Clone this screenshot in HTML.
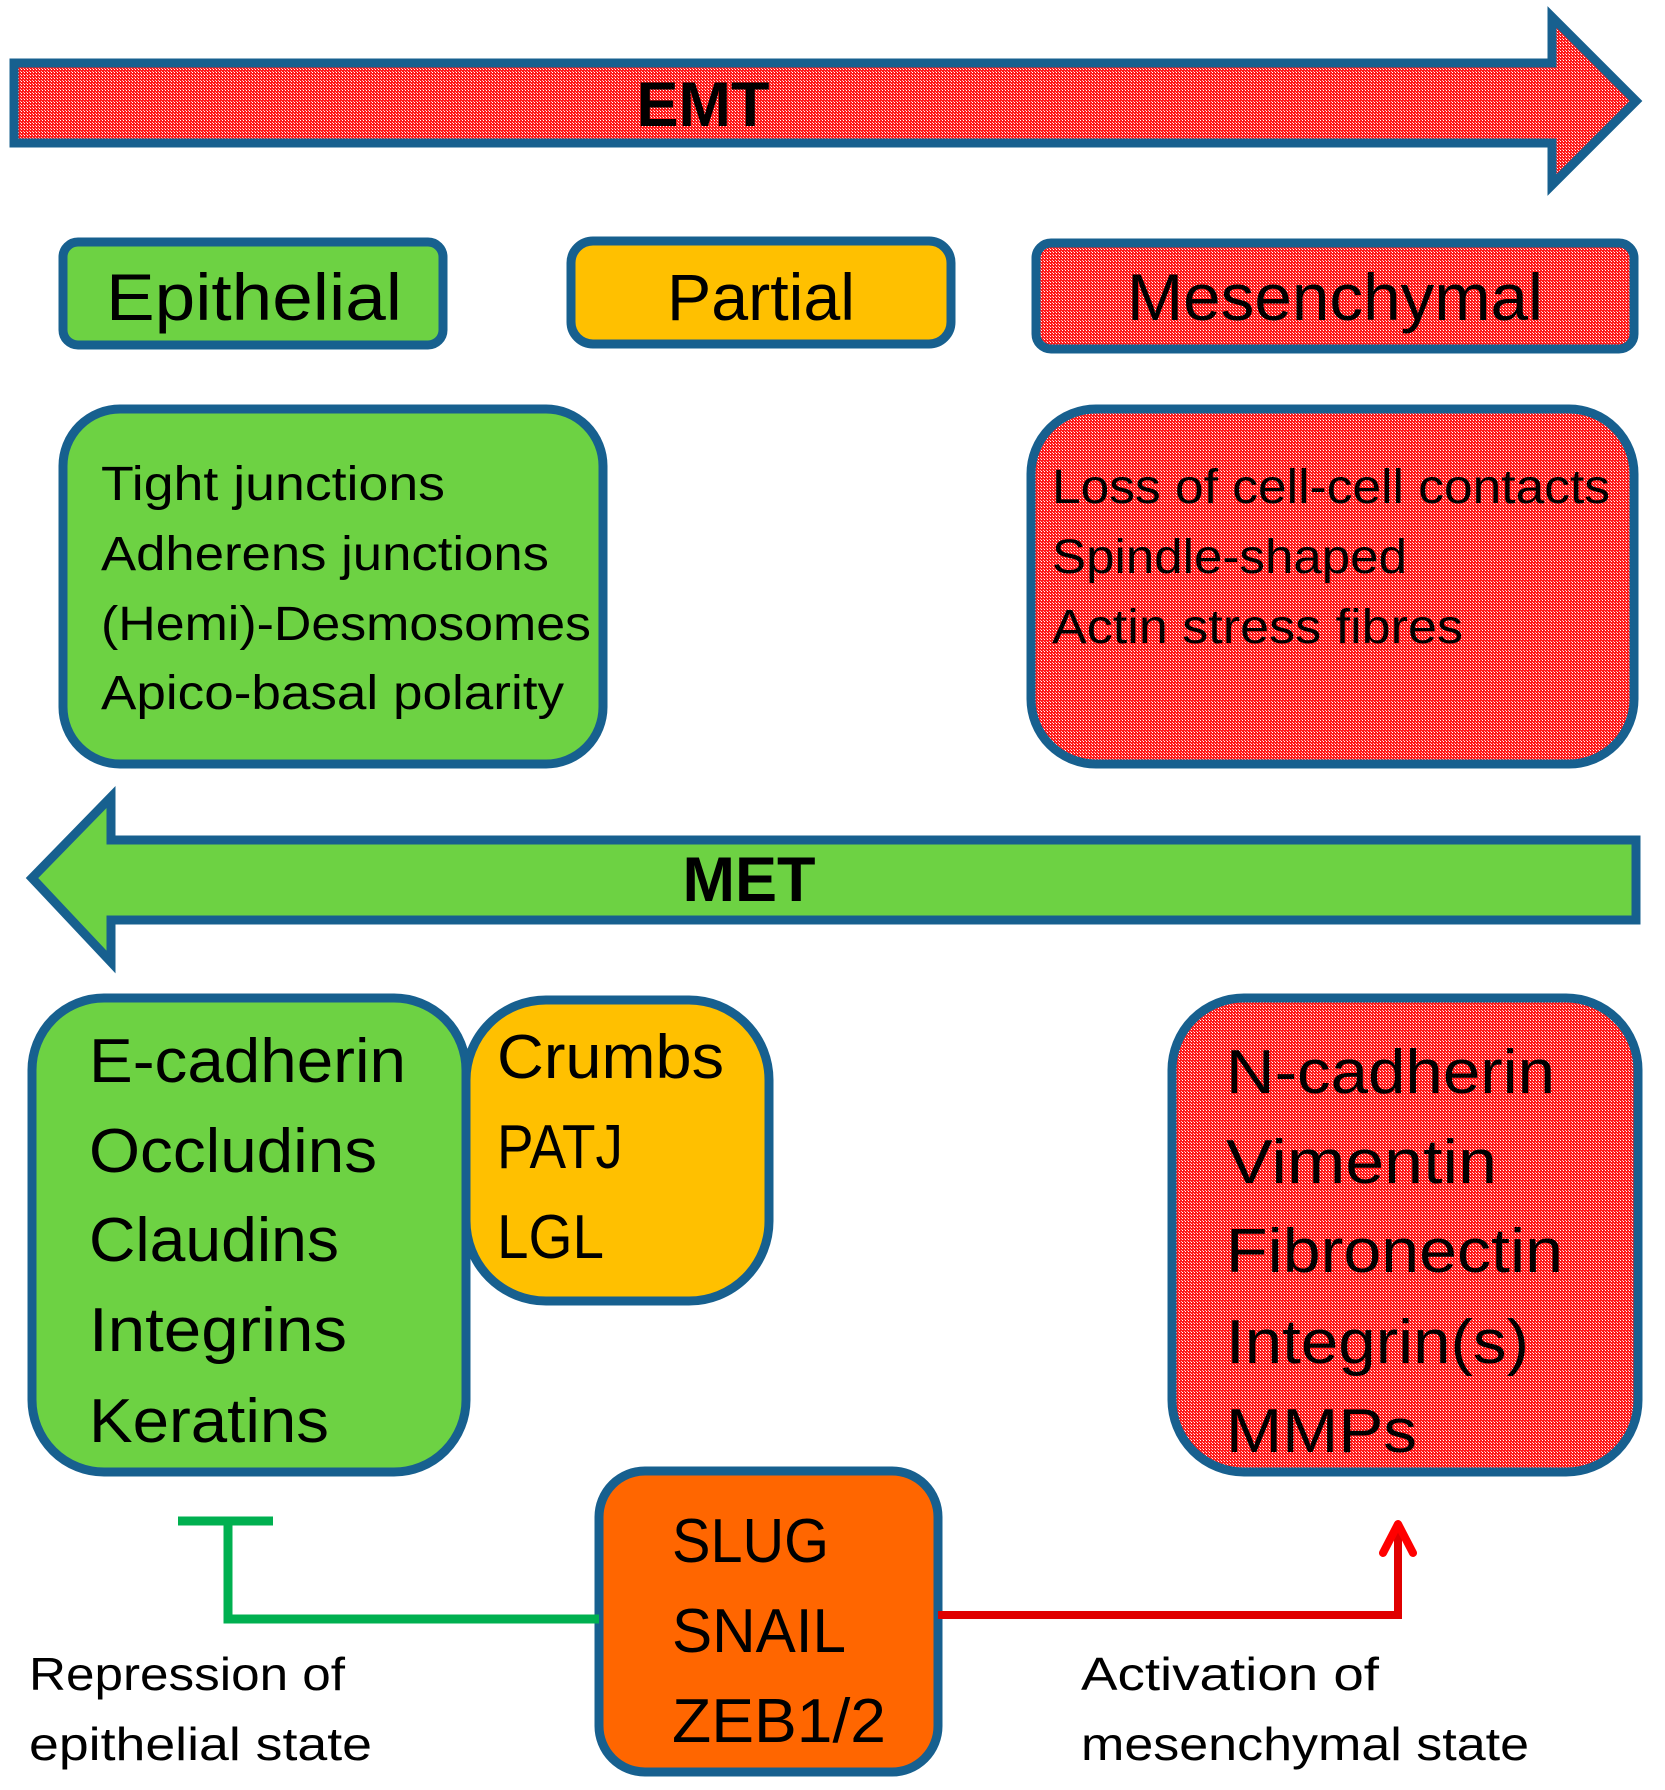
<!DOCTYPE html>
<html><head><meta charset="utf-8"><style>
html,body{margin:0;padding:0;background:#fff;}
svg{display:block;}
text{font-family:"Liberation Sans",sans-serif;fill:#000;}
</style></head><body>
<svg width="1665" height="1790" viewBox="0 0 1665 1790" xmlns="http://www.w3.org/2000/svg">
<defs>
<pattern id="rp" width="3" height="3" patternUnits="userSpaceOnUse">
<rect width="3" height="3" fill="#ff1a1a"/>
<rect x="0" y="0" width="1" height="1" fill="#fff"/>
<rect x="2" y="2" width="1" height="1" fill="#ffb0b0"/>
</pattern>
</defs>
<g stroke="#17608f" stroke-width="9" stroke-linejoin="miter">
<!-- EMT arrow -->
<polygon points="14,63 1552,63 1552,17 1636,101 1552,185 1552,143 14,143" fill="url(#rp)"/>
<!-- MET arrow -->
<polygon points="1636,840 111,840 111,797 32,878 111,962 111,920 1636,920" fill="#6dd243"/>
<rect x="63" y="242" width="380" height="103" rx="15" fill="#6dd243"/>
<rect x="571" y="241" width="380" height="103" rx="22" fill="#ffc000"/>
<rect x="1036" y="243" width="598" height="106" rx="15" fill="url(#rp)"/>
<rect x="63" y="409" width="540" height="355" rx="57" fill="#6dd243"/>
<rect x="1031" y="409" width="603" height="355" rx="65" fill="url(#rp)"/>
<rect x="466" y="1000" width="303" height="301" rx="80" fill="#ffc000"/>
<rect x="32" y="998" width="434" height="474" rx="72" fill="#6dd243"/>
<rect x="1172" y="998" width="466" height="474" rx="72" fill="url(#rp)"/>
<rect x="599" y="1471" width="339" height="301" rx="46" fill="#ff6600"/>
</g>
<!-- connectors -->
<polyline points="599,1619 228,1619 228,1521" fill="none" stroke="#00b050" stroke-width="9"/>
<line x1="178" y1="1521" x2="273" y2="1521" stroke="#00b050" stroke-width="9"/>
<polyline points="938,1615 1398,1615 1398,1523" fill="none" stroke="#e00000" stroke-width="8"/>
<polyline points="1383,1553 1398,1524 1413,1553" fill="none" stroke="#ff0000" stroke-width="8" stroke-linecap="round" stroke-linejoin="round"/>
<!-- text -->
<text x="703" y="126" font-size="63" font-weight="bold" text-anchor="middle">EMT</text>
<text x="749" y="901" font-size="63" font-weight="bold" text-anchor="middle">MET</text>
<text x="254" y="320" font-size="66" text-anchor="middle" textLength="296" lengthAdjust="spacingAndGlyphs">Epithelial</text>
<text x="761" y="320" font-size="66" text-anchor="middle" textLength="188" lengthAdjust="spacingAndGlyphs">Partial</text>
<text x="1335" y="320" font-size="66" text-anchor="middle" textLength="416" lengthAdjust="spacingAndGlyphs">Mesenchymal</text>
<g font-size="48">
<text x="101" y="500" textLength="344" lengthAdjust="spacingAndGlyphs">Tight junctions</text>
<text x="101" y="570" textLength="448" lengthAdjust="spacingAndGlyphs">Adherens junctions</text>
<text x="101" y="640" textLength="490" lengthAdjust="spacingAndGlyphs">(Hemi)-Desmosomes</text>
<text x="101" y="709" textLength="463" lengthAdjust="spacingAndGlyphs">Apico-basal polarity</text>
<text x="1052" y="503" textLength="558" lengthAdjust="spacingAndGlyphs">Loss of cell-cell contacts</text>
<text x="1052" y="573" textLength="355" lengthAdjust="spacingAndGlyphs">Spindle-shaped</text>
<text x="1052" y="643" textLength="411" lengthAdjust="spacingAndGlyphs">Actin stress fibres</text>
</g>
<g font-size="62">
<text x="89" y="1082" textLength="317" lengthAdjust="spacingAndGlyphs">E-cadherin</text>
<text x="89" y="1172" textLength="288" lengthAdjust="spacingAndGlyphs">Occludins</text>
<text x="89" y="1261" textLength="250" lengthAdjust="spacingAndGlyphs">Claudins</text>
<text x="89" y="1351" textLength="258" lengthAdjust="spacingAndGlyphs">Integrins</text>
<text x="89" y="1442" textLength="240" lengthAdjust="spacingAndGlyphs">Keratins</text>
<text x="497" y="1078" textLength="227" lengthAdjust="spacingAndGlyphs">Crumbs</text>
<text x="497" y="1168" textLength="126" lengthAdjust="spacingAndGlyphs">PATJ</text>
<text x="497" y="1258" textLength="107" lengthAdjust="spacingAndGlyphs">LGL</text>
<text x="1226" y="1093" textLength="329" lengthAdjust="spacingAndGlyphs">N-cadherin</text>
<text x="1226" y="1183" textLength="271" lengthAdjust="spacingAndGlyphs">Vimentin</text>
<text x="1226" y="1272" textLength="337" lengthAdjust="spacingAndGlyphs">Fibronectin</text>
<text x="1226" y="1363" textLength="303" lengthAdjust="spacingAndGlyphs">Integrin(s)</text>
<text x="1226" y="1452" textLength="191" lengthAdjust="spacingAndGlyphs">MMPs</text>
<text x="672" y="1562" textLength="157" lengthAdjust="spacingAndGlyphs">SLUG</text>
<text x="672" y="1652" textLength="174" lengthAdjust="spacingAndGlyphs">SNAIL</text>
<text x="672" y="1742" textLength="214" lengthAdjust="spacingAndGlyphs">ZEB1/2</text>
</g>
<g font-size="46">
<text x="29" y="1690" textLength="316" lengthAdjust="spacingAndGlyphs">Repression of</text>
<text x="29" y="1760" textLength="343" lengthAdjust="spacingAndGlyphs">epithelial state</text>
<text x="1081" y="1690" textLength="298" lengthAdjust="spacingAndGlyphs">Activation of</text>
<text x="1081" y="1760" textLength="448" lengthAdjust="spacingAndGlyphs">mesenchymal state</text>
</g>
</svg>
</body></html>
